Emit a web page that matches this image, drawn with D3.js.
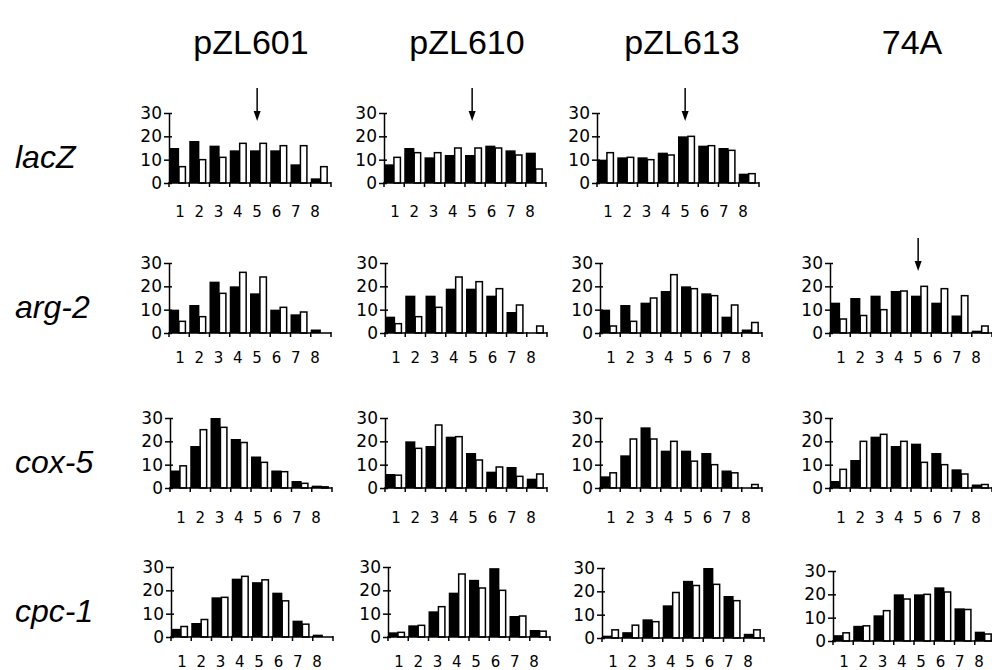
<!DOCTYPE html>
<html><head><meta charset="utf-8">
<script src="https://cdn.jsdelivr.net/npm/d3@7"></script>
<style>body{margin:0;background:#fff}</style>
</head><body><svg id="c" width="992" height="670"></svg>
<script>
const categories = ['1','2','3','4','5','6','7','8'];
const strains = ['pZL601','pZL610','pZL613','74A'];
const genes = ['lacZ','arg-2','cox-5','cpc-1'];
const yTicks = [0,10,20,30];
// filled (black) and open (white) bar values, one list per strain; null = not shown
const lacZBlack = [[15,18,16,14,14,14,8,2],[8,15,11,12,12,16,14,13],[10,11,11,13,20,16,15,4],null];
const lacZWhite = [[7,10,11,17,17,16,16,7],[11,13,13,15,15,15,12,6],[13,11,10,12,20,16,14,4],null];
const arg2Black = [[10,12,22,20,17,10,8,1.5],[7,16,16,19,19,16,9,0],[10,12,13,18,20,17,7,1.5],[13,15,16,18,16,13,7.5,1]];
const arg2White = [[5,7,17,26,24,11,9,0],[4,7,11,24,22,19,12,3],[3,5,15,25,19,16,12,4.5],[6,7.5,10,18,20,19,16,3]];
const cox5Black = [[7.5,18,30,21,13.5,7.5,3,1],[6,20,18,22,15,7,9,4],[5,14,26,16,16,15,7.5,0],[3,12,22,18,19,15,8,1.5]];
const cox5White = [[9.5,25,26,19.5,11,7,2,0.5],[5.5,17,27,22,12,9,5,6],[6.5,21,21,20,11.5,10,6.5,1.5],[8,20,23,20,11,10,6,1.5]];
const cpc1Black = [[3.5,6,17,25,23.5,19,7,1],[2,5,11,19,24.5,29.5,9,3],[1,2.5,8,14,24.5,30,18,1.8],[2.5,6.5,11,20,20,23,14,4]];
const cpc1White = [[4.5,7.5,17,26,24.5,15.5,5.5,0],[2,5,13,27,21,20,9,2.5],[3.5,5.5,7,19.5,22.5,23,16,3.5],[3.5,6.5,13,18,20,21,13.5,3]];
const arrows = [['lacZ','pZL601','5'],['lacZ','pZL610','5'],['lacZ','pZL613','5'],['arg-2','74A','5']];

const blackByGene = {'lacZ':lacZBlack,'arg-2':arg2Black,'cox-5':cox5Black,'cpc-1':cpc1Black};
const whiteByGene = {'lacZ':lacZWhite,'arg-2':arg2White,'cox-5':cox5White,'cpc-1':cpc1White};

// layout
const colX = [169,385,600,830];
const rowZero = [183,333,488,637];
const shiftX = [[0,-1,-3,0],[0,0,0,0],[1,0,0,0],[2,3,2,3]];
const shiftY = [[0,0,0,0],[0,0,0,0],[0,0,0,0],[0,0,1,4]];
const labelDy = [34,30,35,30];
const panelW = 162, panelH = 70;

const svg = d3.select('#c');
const x = d3.scaleBand().domain(categories).range([0,panelW]).padding(0);
const xl = d3.scalePoint().domain(categories).range([11,146]);
const y = d3.scaleLinear().domain([0,30]).range([0,-panelH]);
const bw = x.bandwidth();

// headers
svg.selectAll('text.hdr').data(strains).join('text').attr('class','hdr')
  .attr('x',(d,i)=>colX[i]+82).attr('y',54)
  .attr('text-anchor','middle')
  .style('font-family','Liberation Sans, Arial, sans-serif').style('font-size','34px')
  .text(d=>d);

// row labels
svg.selectAll('text.gene').data(genes).join('text').attr('class','gene')
  .attr('x',15).attr('y',(d,i)=>rowZero[i]-15)
  .style('font-family','Liberation Sans, Arial, sans-serif').style('font-size','32px')
  .style('font-style','italic')
  .text(d=>d);

genes.forEach((g,ri)=>{
  strains.forEach((s,ci)=>{
    const b = blackByGene[g][ci], w = whiteByGene[g][ci];
    if(!b) return;
    const p = svg.append('g').attr('transform',`translate(${colX[ci]+shiftX[ri][ci]},${rowZero[ri]+shiftY[ri][ci]})`);
    // bars
    p.selectAll('rect.w').data(categories).join('rect').attr('class','w')
      .attr('x',c=>x(c)+bw*0.49).attr('width',bw*0.32)
      .attr('y',(c,i)=>y(w[i])).attr('height',(c,i)=>-y(w[i]))
      .attr('fill','#fff').attr('stroke','#000').attr('stroke-width',1.5);
    p.selectAll('rect.b').data(categories).join('rect').attr('class','b')
      .attr('x',c=>x(c)).attr('width',bw*0.5)
      .attr('y',(c,i)=>y(b[i])).attr('height',(c,i)=>-y(b[i]))
      .attr('fill','#000');
    // y axis
    const ya = p.append('g').call(d3.axisLeft(y).tickValues(yTicks).tickSizeInner(5).tickSizeOuter(0).tickPadding(2));
    ya.select('.domain').attr('stroke-width',1.5);
    ya.selectAll('.tick line').attr('x1',3).attr('stroke-width',1.5);
    ya.selectAll('.tick text').style('font-family','DejaVu Sans, sans-serif').style('font-size','17px').attr('fill','#000');
    // x axis
    p.append('line').attr('x1',0).attr('x2',panelW).attr('y1',0).attr('y2',0).attr('stroke','#000').attr('stroke-width',1.5);
    const bounds = categories.map(c=>x(c)).concat([panelW]);
    p.selectAll('line.xt').data(bounds).join('line').attr('class','xt')
      .attr('x1',d=>d).attr('x2',d=>d).attr('y1',-1).attr('y2',4)
      .attr('stroke','#000').attr('stroke-width',1.5);
    p.selectAll('text.xl').data(categories).join('text').attr('class','xl')
      .attr('x',c=>xl(c)).attr('y',labelDy[ri]-shiftY[ri][ci]).attr('text-anchor','middle')
      .style('font-family','DejaVu Sans, sans-serif').style('font-size','15px')
      .text(c=>c);
    // arrows
    arrows.filter(a=>a[0]===g && a[1]===s).forEach(a=>{
      const ax = xl(a[2]);
      p.append('line').attr('x1',ax).attr('x2',ax).attr('y1',-95).attr('y2',-66)
        .attr('stroke','#000').attr('stroke-width',1.5);
      p.append('path').attr('d',`M${ax-3.5},${-72}L${ax},${-62}L${ax+3.5},${-72}Z`).attr('fill','#000');
    });
  });
});
</script></body></html>
